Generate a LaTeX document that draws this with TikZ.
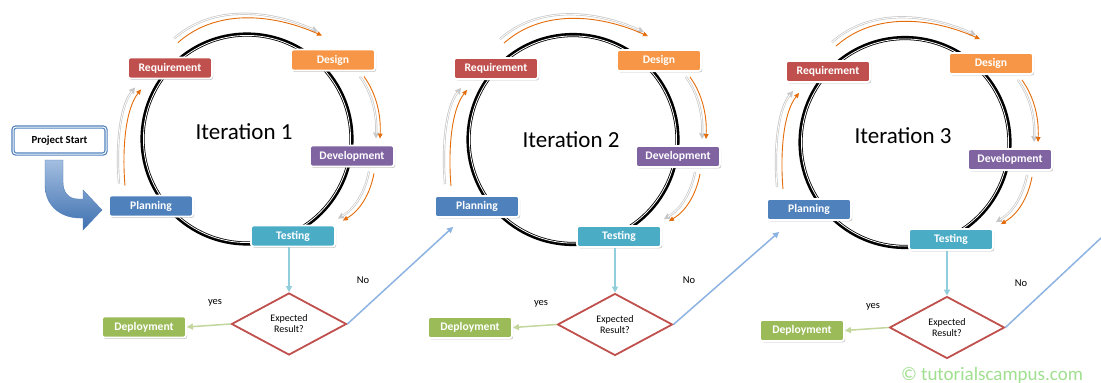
\documentclass[tikz,border=0pt]{standalone}
\usepackage{fontspec}
\setmainfont{Carlito}
\usetikzlibrary{shapes.geometric,shadows,calc,arrows.meta}

\definecolor{cReq}{HTML}{C0504D}
\definecolor{cDes}{HTML}{F79646}
\definecolor{cDev}{HTML}{8064A2}
\definecolor{cPlan}{HTML}{4F81BD}
\definecolor{cTest}{HTML}{4BACC6}
\definecolor{cDep}{HTML}{9BBB59}
\definecolor{cFlow}{HTML}{E46C0A}
\definecolor{cDown}{HTML}{92CDDC}
\definecolor{cYes}{HTML}{C3D69B}
\definecolor{cNo}{HTML}{8DB3E2}
\definecolor{cStart}{HTML}{4F81BD}
\definecolor{cBigTop}{HTML}{A3BEE0}
\definecolor{cBigBot}{HTML}{3E70B0}
\definecolor{cMark}{HTML}{A0E090}

% orange cycle arrow with its pale ghost copy behind it
\newcommand\loopflow[2]{%
  \draw[ghost,transform canvas={#1}] #2;
  \draw[ghostcore,transform canvas={#1}] #2;
  \draw[flow] #2;}

\begin{document}
\begin{tikzpicture}[x=1pt,y=-1pt,
  phase/.style={rectangle, rounded corners=2.5pt, draw=white, line width=1.8pt,
    minimum width=84pt, minimum height=21pt, text=white,
    font=\fontsize{11.6}{13}\selectfont\bfseries,
    drop shadow={shadow xshift=1.2pt, shadow yshift=-1.4pt, fill=black!45, opacity=.5}},
  startbox/.style={rectangle, rounded corners=3pt, draw=cStart, line width=1.2pt,
    double=white, double distance=1pt, fill=white, minimum width=93pt,
    minimum height=27pt, font=\fontsize{10.8}{13}\selectfont\bfseries},
  ringouter/.style={draw=black, line width=4.2pt},
  ringgap/.style={draw=white, line width=0.8pt},
  decision/.style={diamond, draw=cReq, line width=1.8pt, fill=white,
    minimum width=115pt, minimum height=62pt, inner sep=0pt, align=center,
    font=\fontsize{10}{11}\selectfont},
  itlabel/.style={font=\fontsize{23}{26}\selectfont},
  lbl/.style={font=\fontsize{10.5}{12}\selectfont},
  flow/.style={draw=cFlow, line width=0.9pt, -{Triangle[length=5pt,width=4.5pt]}},
  ghost/.style={draw=black!22, line width=2.2pt, -{Triangle[length=6pt,width=6pt]}},
  ghostcore/.style={draw=white, line width=0.8pt, shorten >=5pt},
  down/.style={draw=cDown, line width=1.5pt, -{Triangle[length=6pt,width=6pt]}},
  yesarrow/.style={draw=cYes, line width=1.5pt, -{Triangle[length=6pt,width=6pt]}},
  noline/.style={draw=cNo, line width=1.5pt, -{Triangle[length=6pt,width=6pt]}}]

\useasboundingbox (0,0) rectangle (1101,383);
\fill[white] (0,0) rectangle (1101,383);

\foreach \i/\dx/\dy/\tx/\ty in {1/0/0/244/139, 2/326/0.5/571/147, 3/658/3.5/903/143}{
  \begin{scope}[shift={(\dx,\dy)}]
    % thick black ring with a thin white line set into its inner side
    \draw[ringouter] (247,139) circle[radius=104.5];
    \draw[ringgap] (247,139) circle[radius=103.6];
    \node[phase, fill=cReq]  (req\i)  at (170,68)  {Requirement};
    \node[phase, fill=cDes]  (des\i)  at (333,60)  {Design};
    \node[phase, fill=cDev]  (dev\i)  at (352,156) {Development};
    \node[phase, fill=cPlan] (plan\i) at (151,206) {Planning};
    \node[phase, fill=cTest] (test\i) at (293,236) {Testing};
    \node[decision]          (dia\i)  at (289,324) {Expected\\Result?};
    \node[phase, fill=cDep]  (depl\i) at (144,327) {Deployment};
    \node[lbl] (yes\i) at (215,303) {yes};
    \node[lbl] (no\i)  at (363,280) {No};
  \end{scope}
  \node[itlabel, anchor=base] (it\i) at (\tx,\ty) {Iteration \i};

  % the four steps of the cycle
  \loopflow{xshift=-4pt,yshift=4pt}{($(req\i.north)+(8,-14)$) .. controls +(37,-33) and +(-52,-23) .. ($(des\i.north)+(-11,-13)$)}
  \loopflow{xshift=-4pt}{($(des\i.south east)+(-12,5)$) .. controls +(13,18) and +(1,-23) .. ($(dev\i.north)+(28,-6)$)}
  \loopflow{xshift=-5pt,yshift=2pt}{($(dev\i.south)+(22,6)$) .. controls +(-4,21) and +(17,-10) .. ($(test\i.north east)+(7,-4)$)}
  \loopflow{xshift=-6pt,yshift=2pt}{($(plan\i.north)+(-26,-9)$) .. controls +(-3,-35) and +(-16,20) .. ($(req\i.south west)+(14,10)$)}

  % outcome of the test
  \draw[down] (dia\i.north |- test\i.south) -- (dia\i.north);
  \draw[yesarrow] (dia\i.west) -- (depl\i.east);
}

% entry into the first iteration
\node[startbox] (start) at (59.5,140.5) {Project Start};
\shade[top color=cBigTop, bottom color=cBigBot, draw=cBigBot!90, line width=0.4pt]
  (45,160) -- (45,185) .. controls (45,205) and (60,218) .. (80,218) -- (83,218)
  -- (83,230) -- (102,210) -- (83,190) -- (83,199) -- (78,199)
  .. controls (68,199) and (63,192) .. (63,182) -- (63,160) -- cycle;

% failed results lead into the next iteration
\coordinate (into2) at ($(plan2.south west)+(19,9)$);
\coordinate (into3) at ($(plan3.south west)+(13,11)$);
\coordinate (onward) at (1101,238);
\draw[noline] (dia1.east) -- (into2);
\draw[noline] (dia2.east) -- (into3);
\draw[draw=cNo, line width=1.5pt] (dia3.east) -- (onward);

\node[anchor=base, text=cMark, font=\fontsize{19}{22}\selectfont] (mark) at (992,380) {© tutorialscampus.com};
\end{tikzpicture}
\end{document}
